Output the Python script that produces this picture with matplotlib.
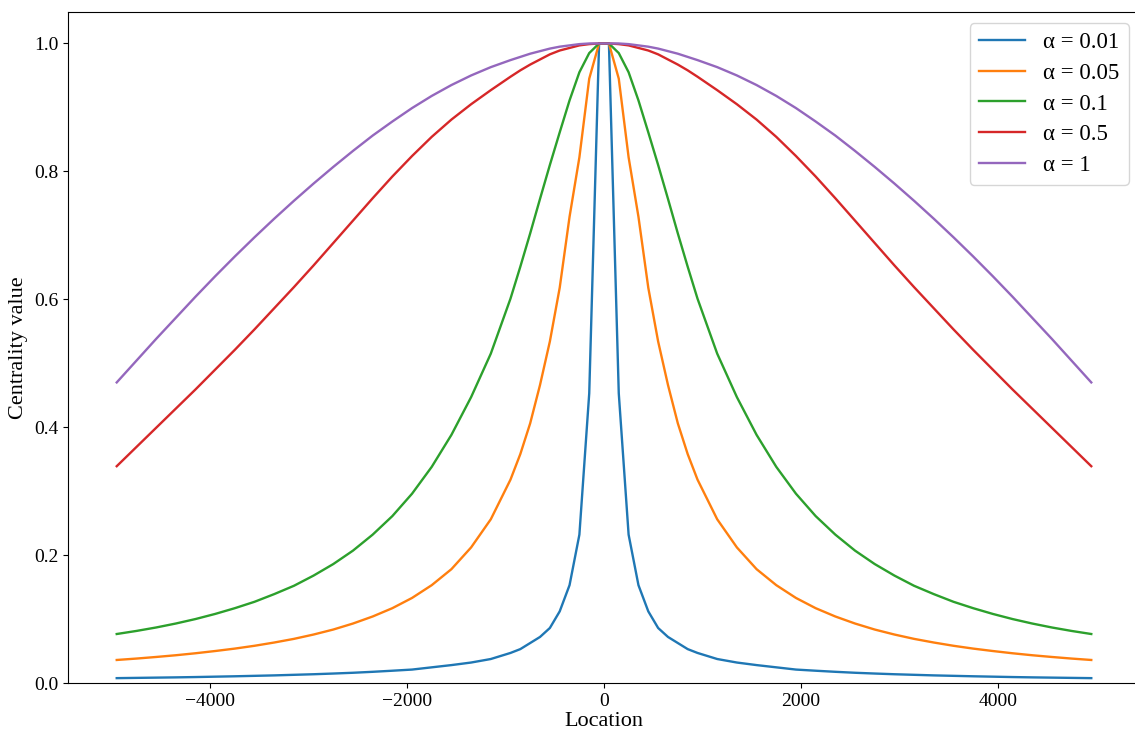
import matplotlib
matplotlib.use('Agg')
import matplotlib.pyplot as plt

plt.rcParams['font.family'] = ['Liberation Serif', 'DejaVu Serif']

# Locations (right half; the curves are symmetric about 0)
x_half = [50, 150, 250, 350, 450, 550, 650, 750, 850, 950,
          1150, 1350, 1550, 1750, 1950, 2150, 2350, 2550, 2750, 2950,
          3150, 3350, 3550, 3750, 3950, 4150, 4350, 4550, 4750, 4950]

alphas = ['0.01', '0.05', '0.1', '0.5', '1']

# Centrality values at x_half
c_001 = [1.0, 0.453, 0.232, 0.153, 0.112, 0.086, 0.072, 0.0625, 0.053, 0.047,
         0.0375, 0.032, 0.028, 0.0245, 0.021, 0.0192, 0.0175, 0.016, 0.0148, 0.0137,
         0.0128, 0.0119, 0.0112, 0.0105, 0.0099, 0.0093, 0.0088, 0.0084, 0.0080, 0.0076]
c_005 = [1.0, 0.945, 0.822, 0.729, 0.618, 0.534, 0.466, 0.406, 0.358, 0.318,
         0.256, 0.212, 0.178, 0.153, 0.133, 0.117, 0.104, 0.093, 0.0836, 0.0758,
         0.069, 0.0633, 0.0582, 0.0538, 0.050, 0.0465, 0.0434, 0.0407, 0.0382, 0.036]
c_01 = [1.0, 0.985, 0.955, 0.911, 0.861, 0.810, 0.757, 0.703, 0.651, 0.601,
        0.515, 0.447, 0.388, 0.338, 0.296, 0.261, 0.232, 0.207, 0.186, 0.168,
        0.152, 0.139, 0.127, 0.117, 0.108, 0.100, 0.093, 0.0868, 0.0814, 0.0766]
c_05 = [1.0, 0.999, 0.997, 0.993, 0.989, 0.983, 0.975, 0.967, 0.958, 0.948,
        0.927, 0.905, 0.881, 0.854, 0.824, 0.792, 0.758, 0.723, 0.688, 0.653,
        0.619, 0.586, 0.553, 0.521, 0.490, 0.459, 0.429, 0.399, 0.369, 0.339]
c_1 = [1.0, 1.0, 0.999, 0.997, 0.995, 0.992, 0.988, 0.984, 0.979, 0.974,
       0.963, 0.950, 0.935, 0.918, 0.899, 0.878, 0.856, 0.832, 0.807, 0.781,
       0.754, 0.726, 0.697, 0.667, 0.636, 0.604, 0.571, 0.538, 0.504, 0.470]


def mirror(half):
    """Full symmetric series from its right half."""
    return list(reversed(half)) + list(half)


location = [-v for v in reversed(x_half)] + x_half

fig = plt.figure(figsize=(11.35, 7.31), dpi=100)
ax = fig.add_axes([68 / 1135, 48 / 731, (1140 - 68) / 1135, (683 - 11.5) / 731])

for a, vals in zip(alphas, [c_001, c_005, c_01, c_05, c_1]):
    ax.plot(location, mirror(vals), lw=1.7, label=f'α = {a}')

ax.set_ylim(0, 1.05)
ax.set_xlabel('Location', fontsize=16, labelpad=2)
ax.set_ylabel('Centrality value', fontsize=16)
ax.tick_params(labelsize=14)
ax.legend(fontsize=16.5, loc='upper right', labelspacing=0.42)

fig.savefig('out.png', dpi=100)
